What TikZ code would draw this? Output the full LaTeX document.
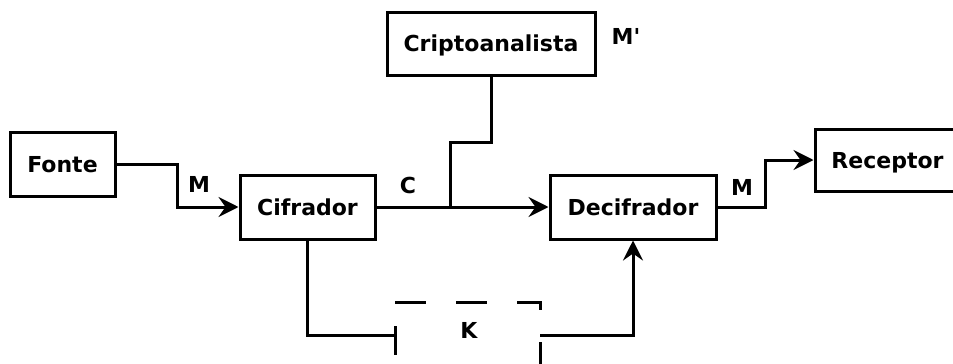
\documentclass[tikz,border=0pt]{standalone}
\usepackage{fontspec}
\setmainfont{DejaVu Sans}
\usetikzlibrary{arrows.meta}
\begin{document}
\begin{tikzpicture}[x=1pt,y=-1pt,
  txt/.style={font=\bfseries\fontsize{22}{26}\selectfont,text height=16pt,text depth=0pt},
  box/.style={txt,draw,line width=3pt,minimum height=64pt,inner sep=0pt},
  lbl/.style={txt,inner sep=0pt},
  wire/.style={line width=3pt},
  arr/.style={wire,-{Stealth[length=20pt,width=20pt,inset=7pt]}}]
\useasboundingbox (0,0) rectangle (953,364);
\node[box,minimum width=105pt] (fon) at (62.5,164.5) {Fonte};
\node[box,minimum width=135pt] (cif) at (307.5,207) {Cifrador};
\node[box,minimum width=208pt,minimum height=63pt] (cri) at (491,43.5) {Criptoanalista};
\node[box,minimum width=166pt] (dec) at (633,207) {Decifrador};
\node[box,minimum width=145pt,minimum height=62pt] (rec) at (887.5,160) {Receptor};
% labels
\node[lbl] (m1) at (199,184) {M};
\node[lbl] (c1) at (408,185.5) {C};
\node[lbl] (m2) at (742,187.5) {M};
\node[lbl] (m3) at (626,36) {M\textquotesingle};
\node[lbl] (k) at (469,330) {K};
% connectors
\draw[arr] (fon.east) -- (177,164.5) |- (cif.west);
\draw[arr] (cif.east) -- (dec.west);
\coordinate (j) at (450,207);
\draw[wire] (cri.south) |- (450,142) -- (j);
\draw[arr] (dec.east) -- (765,207) |- (rec.west);
% key
\coordinate (k1) at (395,335);
\draw[wire] (cif.south) |- (k1);
\draw[wire] (395,326) -- (395,355);
\draw[wire,dash pattern=on 31pt off 30pt] (395,302) -- (540,302) -- (540,310);
\draw[wire] (540,342) -- (540,368);
\coordinate (k2) at (540,335);
\draw[arr] (k2) -| (dec.south);
\end{tikzpicture}
\end{document}
